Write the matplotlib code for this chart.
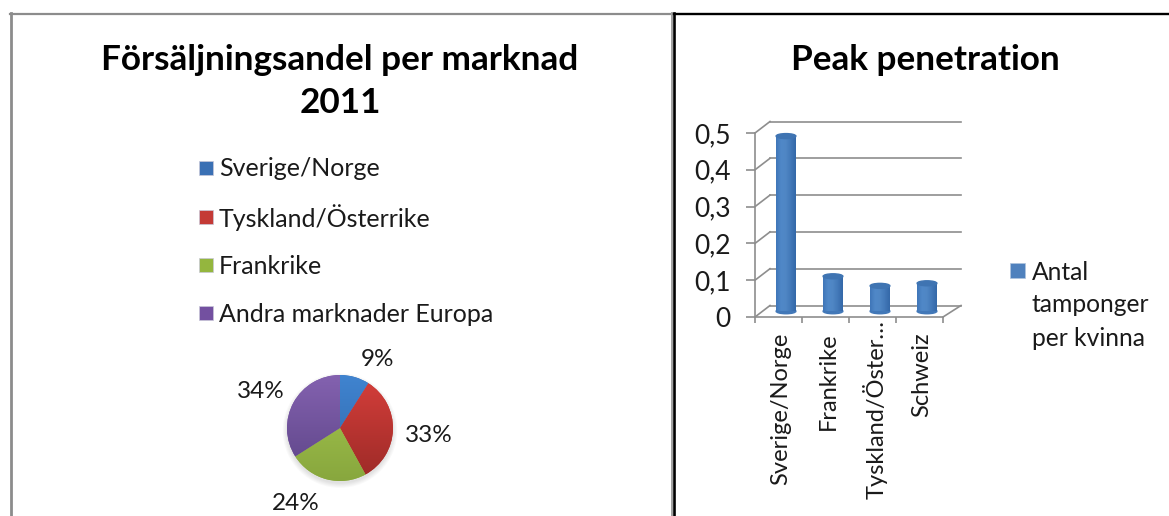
import numpy as np
import matplotlib
matplotlib.use('Agg')
import matplotlib.pyplot as plt
from matplotlib.colors import LinearSegmentedColormap
from matplotlib.patches import Ellipse, Rectangle
from matplotlib.transforms import Affine2D, IdentityTransform

W, H = 1169, 516
plt.rcParams['font.family'] = ['Lato', 'DejaVu Sans']

### data
pie_labels = ['Sverige/Norge', 'Tyskland/Österrike', 'Frankrike', 'Andra marknader Europa']
pie_values = [9, 33, 24, 34]
bar_labels = ['Sverige/Norge', 'Frankrike', 'Tyskland/Öster…', 'Schweiz']
bar_values = [0.476, 0.095, 0.069, 0.076]
y_ticks = [0, 0.1, 0.2, 0.3, 0.4, 0.5]
y_tick_labels = ['0', '0,1', '0,2', '0,3', '0,4', '0,5']

### styles
pie_top = ['#4084d0', '#d63f3b', '#a6c74e', '#8462b0']
pie_bottom = ['#2f66a8', '#9c2a27', '#88a73e', '#5c4486']
legend_cols = ['#3a70b4', '#c43a36', '#94b63e', '#7350a0']
pie_label_pos = [(378, 359), (429, 436), (296, 504), (261, 391)]
legend_y = [169, 218, 266, 314]
text_col = '#1a1a1a'
axis_col = '#8e8e8e'
bar_col = '#4f81bd'


def ax_px(fig, x0, y0, x1, y1):
    # axes from pixel box, y measured from the top
    return fig.add_axes([x0 / W, 1 - y1 / H, (x1 - x0) / W, (y1 - y0) / H])


def draw_frame(bg):
    bg.plot([10, 672], [13.5, 13.5], color='#8c8c8c', lw=1.6)
    bg.plot([10.5, 10.5], [13, H], color='#8c8c8c', lw=2.0)
    bg.plot([671.5, 671.5], [13, H], color='#a0a0a0', lw=1.4)
    bg.plot([673.5, 1169], [13.5, 13.5], color='black', lw=1.7)
    bg.plot([673.8, 673.8], [13, H], color='black', lw=1.9)


def draw_pie(fig, bg):
    cx, cy, r = 340, 428, 53
    ax = ax_px(fig, cx - r, cy - r, cx + r, cy + r)
    ax.set_zorder(2)
    # soft shadow under the pie
    for k in range(5):
        ax.add_patch(Ellipse((0, -0.05), 2 + 0.04 * k, 2 + 0.04 * k, color='black',
                             alpha=0.025, lw=0, clip_on=False, zorder=0))
    wedges, _ = ax.pie(pie_values, colors=legend_cols, startangle=90, counterclock=False,
                       radius=1, wedgeprops={'lw': 0})
    grad = np.linspace(0, 1, 128).reshape(-1, 1)
    for wedge, top, bottom in zip(wedges, pie_top, pie_bottom):
        cmap = LinearSegmentedColormap.from_list('g', [top, bottom])
        im = ax.imshow(grad, extent=(-1, 1, -1, 1), cmap=cmap, aspect='auto', zorder=3)
        im.set_clip_path(wedge)
    ax.set_xlim(-1, 1)
    ax.set_ylim(-1, 1)
    ax.axis('off')

    for v, (x, y) in zip(pie_values, pie_label_pos):
        bg.text(x, y, '{}%'.format(v), fontsize=17.5, color=text_col, ha='center', va='center')


def draw_bars(fig):
    x0, x1, y0, y1 = 755, 943, 133, 317
    dx, dy = 15, 11.5
    ax = ax_px(fig, x0, y0, x1, y1)
    ax.set_zorder(2)
    ax.patch.set_alpha(0)
    ax.set_xlim(0, 4)
    ax.set_ylim(0, 0.5)

    xs = np.arange(len(bar_values)) + 0.5
    mid = ax.transData + Affine2D().translate(dx / 2, dy / 2)
    back = ax.transData + Affine2D().translate(dx, dy)

    # back wall lines, and the short diagonals back to the axis
    for v in y_ticks:
        ax.plot([0, 4.07], [v, v], color=axis_col, lw=1.2, transform=back, clip_on=False, zorder=1)
        p = ax.transData.transform((0, v))
        ax.plot([p[0], p[0] + dx], [p[1], p[1] + dy], color=axis_col, lw=1.2,
                transform=IdentityTransform(), clip_on=False, zorder=1)
    p = ax.transData.transform((4, 0))
    ax.plot([p[0], p[0] + dx + 3], [p[1], p[1] + dy], color=axis_col, lw=1.2,
            transform=IdentityTransform(), clip_on=False, zorder=1)

    width = 0.42
    ew = 5 / ((y1 - y0) / 0.5)
    cmap = LinearSegmentedColormap.from_list('c', ['#3f76b8', '#5088c8', '#4f86c4', '#4278b8', '#3468a8'])
    grad = np.linspace(0, 1, 64).reshape(1, -1)
    ax.bar(xs, bar_values, width=width, color=bar_col, transform=mid, clip_on=False, zorder=3)
    for x, v in zip(xs, bar_values):
        ax.add_patch(Ellipse((x, 0), width, ew, color='#4278b8', transform=mid, clip_on=False, zorder=3))
        ax.imshow(grad, extent=(x - width / 2, x + width / 2, 0, v), cmap=cmap, aspect='auto',
                  transform=mid, clip_on=False, zorder=4)
        ax.add_patch(Ellipse((x, v), width, ew, color='#3f74b2', transform=mid, clip_on=False, zorder=5))
    ax.set_xlim(0, 4)
    ax.set_ylim(0, 0.5)

    for s in ['top', 'right']:
        ax.spines[s].set_visible(False)
    for s in ['left', 'bottom']:
        ax.spines[s].set_color(axis_col)
        ax.spines[s].set_linewidth(1.2)
    ax.set_yticks(y_ticks)
    ax.set_yticklabels(y_tick_labels, fontsize=19, color=text_col)
    ax.tick_params(axis='y', length=6.5, width=1.2, color=axis_col, pad=11)
    ax.set_xticks(np.arange(0, 5))
    ax.set_xticklabels([])
    ax.tick_params(axis='x', length=4.5, width=1.2, color=axis_col)
    ax.set_xticks(xs, minor=True)
    labs = ax.set_xticklabels(bar_labels, minor=True, rotation=90, fontsize=17, color=text_col,
                              va='top', ha='center')
    ax.tick_params(axis='x', which='minor', length=0, pad=11)
    # labels sit a bit right of the ticks, the cut one runs up to the axis
    for i, lab in enumerate(labs):
        up = 12 if bar_labels[i].endswith('…') else 0
        lab.set_transform(lab.get_transform() + Affine2D().translate(2.5, up))


def main():
    fig = plt.figure(figsize=(W / 100, H / 100), dpi=100)
    bg = fig.add_axes([0, 0, 1, 1])
    bg.set_xlim(0, W)
    bg.set_ylim(H, 0)
    bg.axis('off')

    draw_frame(bg)

    bg.text(340, 60, 'Försäljningsandel per marknad', fontsize=25.3, fontweight='bold',
            color='black', ha='center', va='center')
    bg.text(340, 103, '2011', fontsize=25.3, fontweight='bold', color='black', ha='center', va='center')
    bg.text(925, 60, 'Peak penetration', fontsize=25.3, fontweight='bold', color='black', ha='center', va='center')

    for name, col, y in zip(pie_labels, legend_cols, legend_y):
        bg.add_patch(Rectangle((199, y - 8), 14, 14, facecolor=col, edgecolor='#c8c8d8', lw=0.5))
        bg.text(219, y, name, fontsize=18, color=text_col, ha='left', va='center')

    bg.add_patch(Rectangle((1010, 263), 15, 15, facecolor=bar_col, edgecolor='#b0c4de', lw=0.5))
    for line, y in zip(['Antal', 'tamponger', 'per kvinna'], [272, 305, 338]):
        bg.text(1032, y, line, fontsize=17.7, color=text_col, ha='left', va='center')

    draw_pie(fig, bg)
    draw_bars(fig)

    fig.savefig('out.png', dpi=100)


if __name__ == '__main__':
    main()
